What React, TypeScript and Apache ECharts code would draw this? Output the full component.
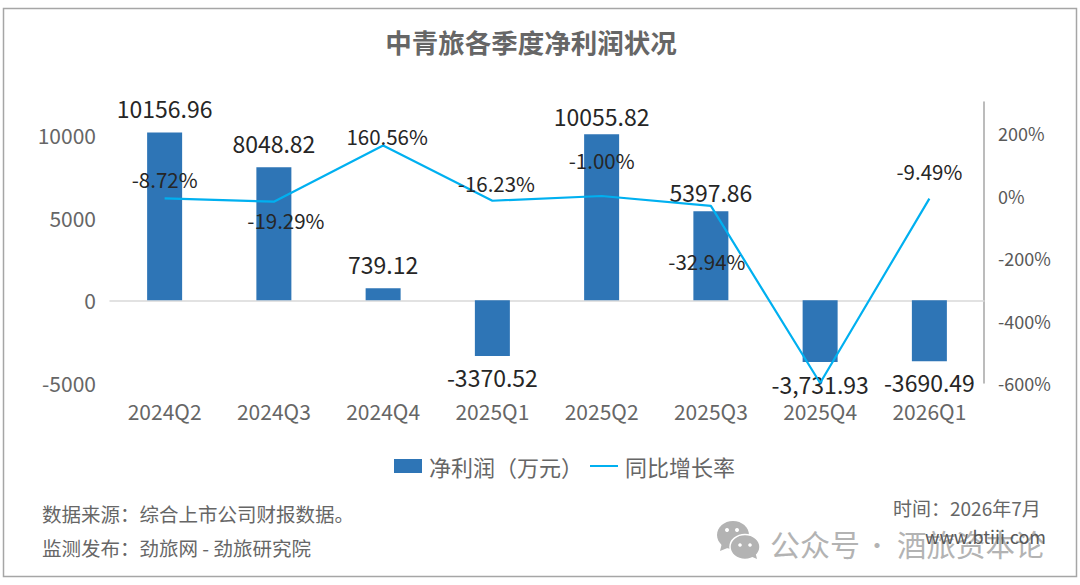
import React, { useEffect, useRef } from "react";
import * as echarts from "echarts";

const categories = ["2024Q2", "2024Q3", "2024Q4", "2025Q1", "2025Q2", "2025Q3", "2025Q4", "2026Q1"];
const netProfit = [10156.96, 8048.82, 739.12, -3370.52, 10055.82, 5397.86, -3731.93, -3690.49];
const netProfitLabels = ["10156.96", "8048.82", "739.12", "-3370.52", "10055.82", "5397.86", "-3,731.93", "-3690.49"];
const netProfitLabelOffsets = [[0, -8], [0, -8], [0, -8], [0, 0], [0, -2], [0, -3], [0, 1], [0, 0]];
const yoyGrowth = [-8.72, -19.29, 160.56, -16.23, -1.0, -32.94, -600, -9.49];
const yoyLabels = ["-8.72%", "-19.29%", "160.56%", "-16.23%", "-1.00%", "-32.94%", "", "-9.49%"];
const yoyLabelOffsets = [[0, -19], [12, 18], [4, -10], [4, -18], [0, -36], [-4, 55], [0, 0], [0, -28]];

const FONT = '"Noto Sans CJK SC", "Noto Sans", sans-serif';

export default function App() {
  const ref = useRef<HTMLDivElement>(null);
  useEffect(() => {
    document.body.style.margin = "0";
    const chart = echarts.init(ref.current!, undefined, { renderer: "svg" });
    chart.setOption({
      animation: false,
      backgroundColor: "#ffffff",
      textStyle: { fontFamily: FONT },
      title: {
        text: "中青旅各季度净利润状况",
        left: 526,
        top: 23,
        textAlign: "center",
        textStyle: { fontSize: 26.5, fontWeight: "bold", color: "#666666", fontFamily: FONT },
      },
      legend: {
        left: 389,
        top: 450,
        itemWidth: 28,
        itemHeight: 14,
        itemGap: 6,
        textStyle: { fontSize: 22, color: "#666666", fontFamily: FONT, padding: [0, 0, 0, 2] },
        data: [
          { name: "净利润（万元）", icon: "rect" },
          { name: "同比增长率", itemStyle: { opacity: 0, borderWidth: 0 } },
        ],
      },
      grid: { left: 110, right: 96, top: 102, bottom: 202 },
      xAxis: [
        {
          type: "category",
          data: categories,
          position: "bottom",
          axisLine: { show: false, onZero: false },
          axisTick: { show: false },
          axisLabel: { fontSize: 21, color: "#666666", margin: 17, fontFamily: FONT },
        },
        {
          type: "category",
          data: categories,
          position: "bottom",
          axisLine: { show: true, onZero: true, lineStyle: { color: "#d9d9d9", width: 1.5 } },
          axisTick: { show: false },
          axisLabel: { show: false },
        },
      ],
      yAxis: [
        {
          type: "value",
          min: -5000,
          max: 12000,
          interval: 5000,
          splitLine: { show: false },
          axisLine: { show: false },
          axisTick: { show: false },
          axisLabel: {
            fontSize: 21,
            color: "#666666",
            margin: 14,
            showMaxLabel: false,
            fontFamily: FONT,
            padding: [-2, 0, 0, 0],
            formatter: (v: number) => `${v}`,
          },
        },
        {
          type: "value",
          position: "right",
          min: -600,
          max: 300,
          interval: 200,
          splitLine: { show: false },
          axisLine: { show: true, lineStyle: { color: "#a6a6a6", width: 1.5 } },
          axisTick: { show: false },
          axisLabel: {
            fontSize: 18,
            color: "#595959",
            margin: 14,
            showMaxLabel: false,
            fontFamily: FONT,
            padding: [-2, 0, 0, 0],
            formatter: (v: number) => `${v}%`,
          },
        },
      ],
      series: [
        {
          name: "净利润（万元）",
          type: "bar",
          barWidth: 35,
          itemStyle: { color: "#2e75b6" },
          data: netProfit.map((value, i) => ({
            value,
            label: {
              show: true,
              position: value >= 0 ? "top" : "bottom",
              distance: value >= 0 ? 5 : 9,
              offset: netProfitLabelOffsets[i],
              formatter: netProfitLabels[i],
              fontSize: 23,
              color: "#262626",
              fontFamily: FONT,
            },
          })),
        },
        {
          name: "同比增长率",
          type: "line",
          yAxisIndex: 1,
          symbol: "none",
          lineStyle: { color: "#00b0f0", width: 2.2 },
          itemStyle: { color: "#00b0f0" },
          data: yoyGrowth.map((value, i) => ({
            value,
            symbol: "circle",
            symbolSize: 0.01,
            label: {
              show: yoyLabels[i] !== "",
              position: "inside",
              offset: yoyLabelOffsets[i],
              formatter: yoyLabels[i],
              fontSize: 20.5,
              color: "#262626",
              fontFamily: FONT,
            },
          })),
        },
      ],
      graphic: [
        { type: "rect", shape: { x: 3.5, y: 8.5, width: 1073, height: 568 }, style: { fill: "none", stroke: "#a6a6a6", lineWidth: 1.5 }, silent: true },
        { type: "text", x: 42, y: 513, style: { text: "数据来源：综合上市公司财报数据。", font: `19.5px ${FONT}`, fill: "#666666", textVerticalAlign: "middle" } },
        { type: "text", x: 42, y: 547, style: { text: "监测发布：劲旅网 - 劲旅研究院", font: `19.5px ${FONT}`, fill: "#666666", textVerticalAlign: "middle" } },
        { type: "ellipse", shape: { cx: 733, cy: 535, rx: 16, ry: 14 }, style: { fill: "#b3b3b3" } },
        { type: "polygon", shape: { points: [[722, 543], [720, 551], [730, 547]] }, style: { fill: "#b3b3b3" } },
        { type: "ellipse", shape: { cx: 745, cy: 547, rx: 15, ry: 12.5 }, style: { fill: "#b3b3b3", stroke: "#ffffff", lineWidth: 1.5 } },
        { type: "polygon", shape: { points: [[750, 556], [757, 559], [755, 551]] }, style: { fill: "#b3b3b3" } },
        { type: "circle", shape: { cx: 727, cy: 530, r: 2 }, style: { fill: "#ffffff" } },
        { type: "circle", shape: { cx: 737, cy: 530, r: 2 }, style: { fill: "#ffffff" } },
        { type: "circle", shape: { cx: 740, cy: 545, r: 1.8 }, style: { fill: "#ffffff" } },
        { type: "circle", shape: { cx: 750, cy: 545, r: 1.8 }, style: { fill: "#ffffff" } },
        { type: "text", x: 770, y: 543, style: { text: "公众号", font: `30px ${FONT}`, fill: "#b3b3b3", textVerticalAlign: "middle" } },
        { type: "text", x: 865, y: 543, style: { text: "·", font: `24px ${FONT}`, fill: "#b3b3b3", textVerticalAlign: "middle" } },
        { type: "text", x: 897, y: 543, style: { text: "酒旅资本论", font: `29.5px ${FONT}`, fill: "#b3b3b3", textVerticalAlign: "middle" } },
        { type: "text", x: 893, y: 507, style: { text: "时间：2026年7月", font: `19px ${FONT}`, fill: "#666666", textVerticalAlign: "middle" } },
        { type: "text", x: 925, y: 536, style: { text: "www.btiii.com", font: `18px ${FONT}`, fill: "#595959", textVerticalAlign: "middle" } },
      ],
    });
    return () => chart.dispose();
  }, []);
  return <div ref={ref} style={{ width: 1080, height: 585 }} />;
}
